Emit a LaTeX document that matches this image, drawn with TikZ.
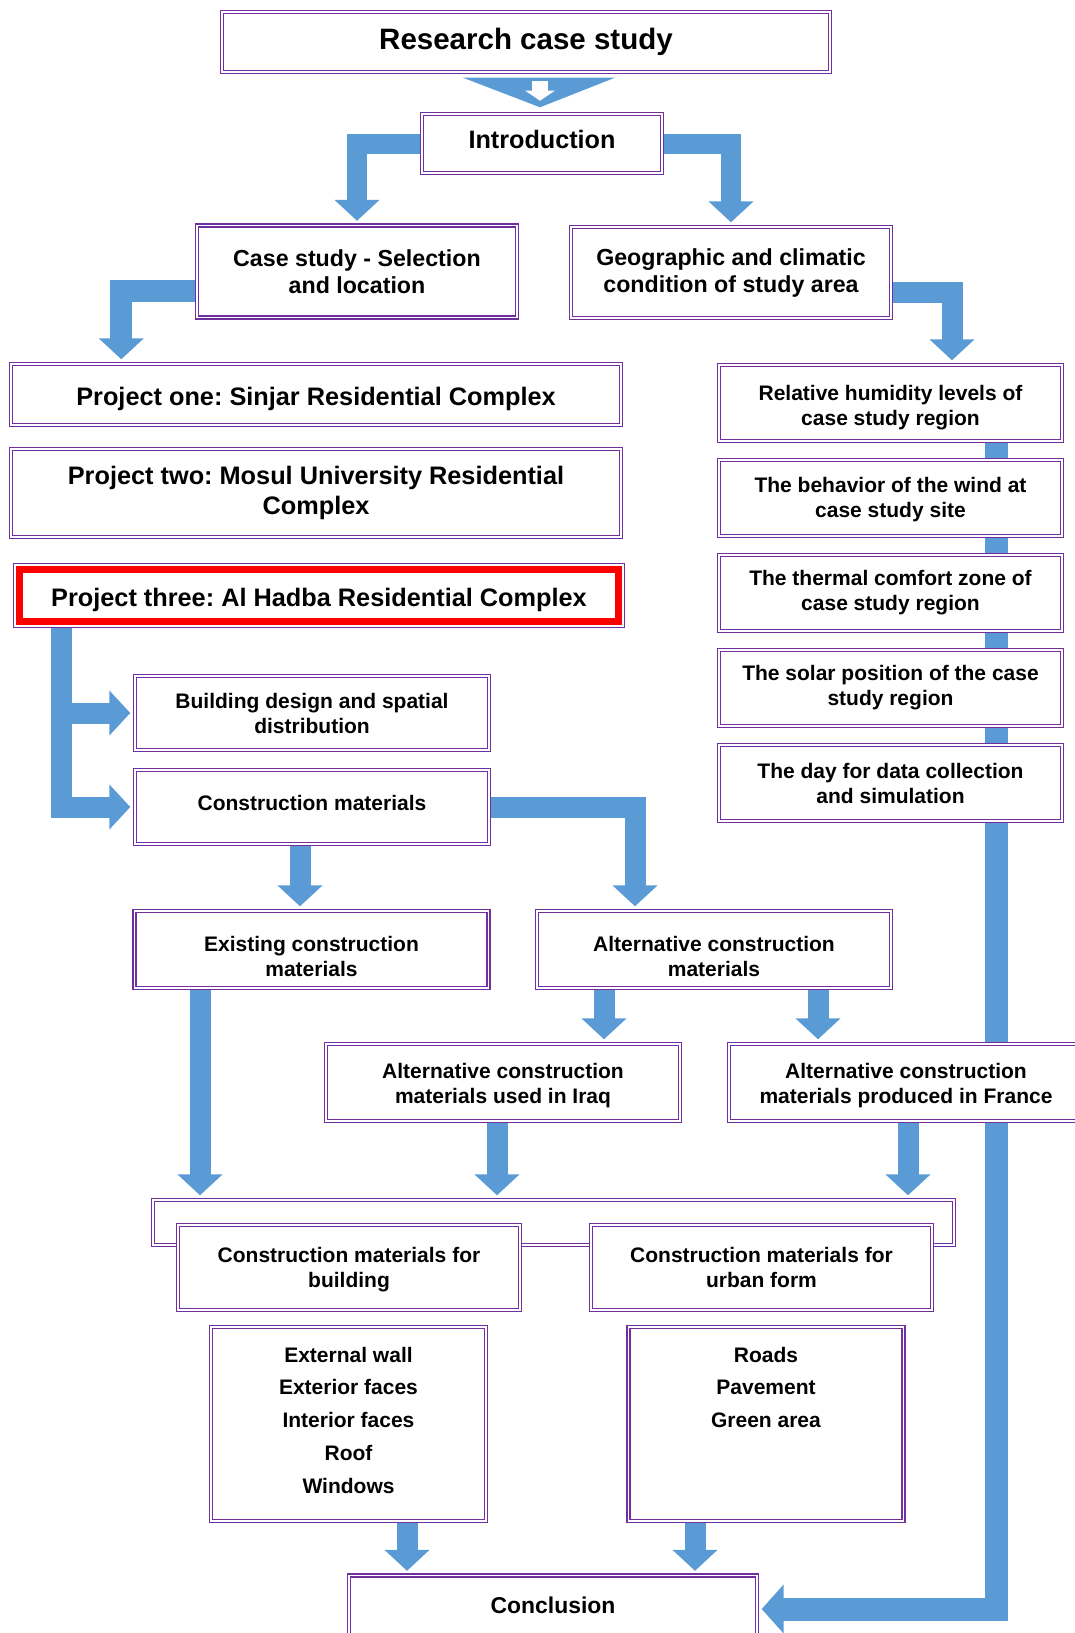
\documentclass[tikz,border=0pt]{standalone}
\usepackage{fontspec}
\setmainfont{Liberation Sans}
\usetikzlibrary{arrows.meta, positioning, calc, backgrounds}
\definecolor{colBorder}{RGB}{112,48,160}
\definecolor{colArrow}{RGB}{91,155,213}
\definecolor{colMark}{RGB}{255,0,0}
\tikzset{
  box/.style={
    rectangle, draw=colBorder, double=white, double distance=1.8pt,
    line width=1.4pt, fill=white, align=center, inner sep=2pt,
    font=\fontsize{21}{25}\selectfont\bfseries
  },
  smallBox/.style={box, minimum width=354pt, minimum height=74pt},
  sideBox/.style={box, minimum width=343pt, minimum height=76pt},
  midBox/.style={box, minimum width=320pt, minimum height=92pt,
    font=\fontsize{23.2}{27}\selectfont\bfseries},
  projBox/.style={box, minimum width=610pt,
    font=\fontsize{25.3}{30}\selectfont\bfseries},
  listBox/.style={box, minimum width=275pt, minimum height=194pt,
    font=\fontsize{21}{32.8}\selectfont\bfseries},
  fatArr/.style={draw=colArrow, line width=21pt,
    -{Triangle[length=21pt, width=44pt]}, shorten >=4pt},
  wideArr/.style={fatArr, line width=23pt,
    -{Triangle[length=22pt, width=48pt]}},
}
% struts to push a line of box text down (\up) or up (\dn)
\newcommand{\up}[1]{\rule{0pt}{#1}}
\newcommand{\dn}[1]{\rule[-#1]{0pt}{0pt}}

\begin{document}
\frenchspacing
\begin{tikzpicture}[x=1pt, y=-1pt]
\useasboundingbox (0,0) rectangle (1075,1633);

% ---- Top of the chart ------------------------------------------
\node[box, minimum width=608pt, minimum height=60pt,
  font=\fontsize{29.5}{34}\selectfont\bfseries] (research) at (526,42) {Research case study};
\node[box, minimum width=240pt, minimum height=59pt,
  font=\fontsize{25.2}{30}\selectfont\bfseries] (intro) at (542,143.5) {Introduction\dn{8pt}};
\node[midBox] (casesel) at (357,271.5) {Case study - Selection\\and location};
\node[midBox, minimum height=91pt] (geo) at (731,272.5) {Geographic and climatic\\condition of study area};

% ---- Projects --------------------------------------------------
\node[projBox, minimum height=61pt] (proj1) at (316,394.5) {\up{26.5pt}Project one: Sinjar Residential Complex};
\node[projBox, minimum height=88pt] (proj2) at (316,493) {Project two: Mosul University Residential\\Complex};
\node[projBox, minimum width=608pt, minimum height=61pt] (proj3) at (319,595.5) {\up{26.5pt}Project three: Al Hadba Residential Complex};
\draw[colMark, line width=7pt] ($(proj3.north west)+(5.5,5.5)$) rectangle ($(proj3.south east)+(-5.5,-5)$);

% ---- Climate column --------------------------------------------
\node[sideBox] (humid) at (890.5,403) {\up{25pt}Relative humidity levels of\\case study region};
\node[sideBox, below=17.6pt of humid] (wind) {\up{19pt}The behavior of the wind at\\case study site};
\node[sideBox, below=17.6pt of wind] (thermal) {The thermal comfort zone of\\case study region};
\node[sideBox, below=17.6pt of thermal] (solar) {The solar position of the case\\study region};
\node[sideBox, below=17.6pt of solar] (dayset) {The day for data collection\\and simulation};

% ---- Materials -------------------------------------------------
\node[smallBox] (design) at (312,713) {Building design and spatial\\distribution};
\node[smallBox] (constr) at (312,807) {Construction materials\dn{8pt}};
\node[smallBox, minimum height=77pt] (existing) at (311.5,949.5) {\up{29pt}Existing construction\\materials};
\node[smallBox, minimum height=77pt] (altern) at (714,949.5) {\up{29pt}Alternative construction\\materials};
\node[smallBox, minimum height=77pt] (iraq) at (503,1082.5) {\up{22pt}Alternative construction\\materials used in Iraq};
\node[smallBox, minimum height=77pt] (france) at (906,1082.5) {\up{22pt}Alternative construction\\materials produced in France};

\node[box, minimum width=801pt, minimum height=45pt] (matFrame) at (553.5,1222.5) {};
\node[box, minimum width=342pt, minimum height=85pt] (forBuild) at (349,1267.5) {\up{19pt}Construction materials for\\building};
\node[box, minimum width=341pt, minimum height=85pt] (forUrban) at (761.5,1267.5) {Construction materials for\\urban form};

\node[listBox] (bldList) at (348.5,1424) {External wall\\Exterior faces\\Interior faces\\Roof\\Windows\dn{8pt}};
\node[listBox] (roadList) at (766,1424) {Roads\\Pavement\\Green area\\~\\~\dn{8pt}};

\node[box, minimum width=408pt, minimum height=67pt,
  font=\fontsize{22.9}{27}\selectfont\bfseries] (concl) at (553,1609) {Conclusion\dn{8pt}};

% ---- Block arrows ----------------------------------------------
\begin{scope}[on background layer]
  \fill[colArrow] ($(research.south)+(-63,5)$) -- ($(research.south)+(89,5)$) -- ($(intro.north)+(-2,-6)$) -- cycle;
  \draw[white, line width=16pt, -{Triangle[length=10pt, width=29pt]}] ($(research.south)+(14,8)$) -- ($(research.south)+(14,28)$);

  \draw[fatArr, line width=20pt] (intro.west) -| (casesel.north);
  \draw[fatArr, line width=20pt] (intro.east) -| (geo.north);

  \draw[fatArr, line width=22pt] ($(casesel.west)+(0,19)$) -| ($(proj1.north west)+(111,0)$);
  \draw[fatArr] ($(geo.east)+(0,19.5)$) -| ($(humid.north)+(61.5,0)$);

  \draw[fatArr] ($(proj3.south west)+(47,0)$) |- (design.west);
  \draw[fatArr] ($(proj3.south west)+(47,0)$) |- (constr.west);

  \draw[fatArr] ($(constr.south)+(-12,0)$) coordinate (c1) -- (c1 |- existing.north);
  \draw[fatArr] (constr.east) -| ($(altern.north)+(-79,0)$);

  \draw[fatArr] ($(altern.south)+(-110,0)$) coordinate (a1) -- (a1 |- iraq.north);
  \draw[fatArr] ($(altern.south)+(104,0)$) coordinate (a2) -- (a2 |- france.north);

  \draw[fatArr] ($(existing.south)+(-111.5,0)$) coordinate (e1) -- (e1 |- matFrame.north);
  \draw[fatArr] ($(iraq.south)+(-6,0)$) coordinate (i1) -- (i1 |- matFrame.north);
  \draw[fatArr] ($(france.south)+(2,0)$) coordinate (f1) -- (f1 |- matFrame.north);

  \draw[fatArr] ($(bldList.south)+(58.5,0)$) coordinate (l1) -- (l1 |- concl.north);
  \draw[fatArr] ($(roadList.south)+(-71,0)$) coordinate (l2) -- (l2 |- concl.north);

  \draw[wideArr] ($(humid.south)+(105.5,0)$) |- (concl.east);
\end{scope}

\end{tikzpicture}
\end{document}
